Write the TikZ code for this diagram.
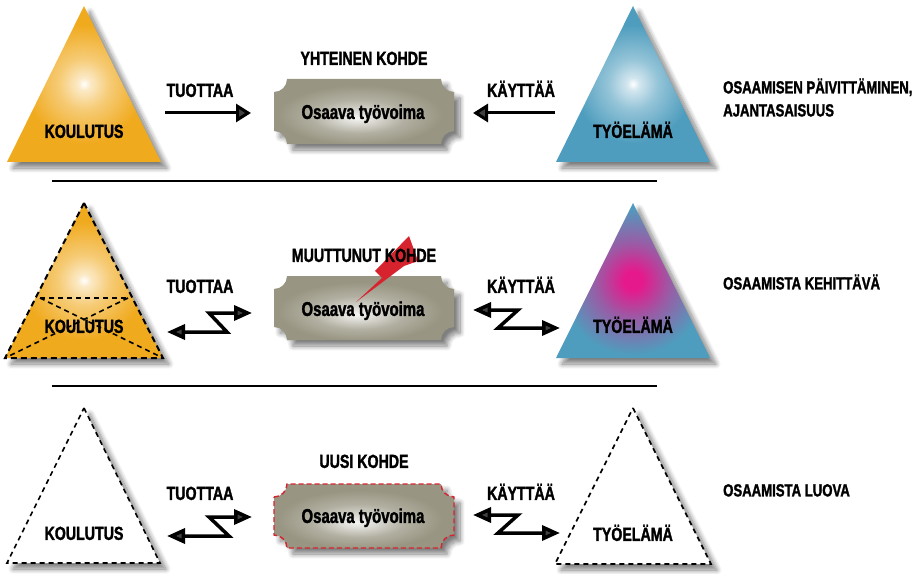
\documentclass[tikz,border=0pt]{standalone}
\usepackage{fontspec}
\newfontfamily\condfont{Liberation Sans}[FakeStretch=0.75, FakeBold=1.6]
\usetikzlibrary{arrows.meta,shadows.blur}

\definecolor{orangec}{RGB}{240,170,30}
\definecolor{bluec}{RGB}{78,157,190}
\definecolor{pinkc}{RGB}{230,25,140}
\definecolor{boxc}{RGB}{152,149,130}
\definecolor{boltc}{RGB}{215,35,45}

\pgfdeclareradialshading{orangeglow}{\pgfpoint{0bp}{0bp}}{%
  color(0bp)=(white); color(2bp)=(white!75!orangec); color(8bp)=(white!40!orangec);
  color(19bp)=(orangec); color(50bp)=(orangec)}
\pgfdeclareradialshading{blueglow}{\pgfpoint{0bp}{0bp}}{%
  color(0bp)=(white); color(2bp)=(white!75!bluec); color(8bp)=(white!40!bluec);
  color(19bp)=(bluec); color(50bp)=(bluec)}
\pgfdeclareradialshading{pinkglow}{\pgfpoint{0bp}{0bp}}{%
  color(0bp)=(pinkc); color(3bp)=(pinkc); color(12bp)=(pinkc!50!bluec);
  color(24bp)=(bluec); color(50bp)=(bluec)}
\pgfdeclareradialshading{boxglow}{\pgfpoint{-2bp}{-5bp}}{%
  color(0bp)=(white!90!boxc); color(5bp)=(white!65!boxc); color(13bp)=(white!25!boxc);
  color(23bp)=(boxc); color(50bp)=(boxc)}

\begin{document}
\begin{tikzpicture}[x=1bp,y=-1bp,
  txt/.style={font=\condfont\bfseries\fontsize{#1}{#1}\selectfont,
    inner sep=0pt, text height=13.8bp, text depth=0pt},
  lbl/.style={txt=19},
  hdr/.style={txt=19},
  boxt/.style={txt=20},
  trit/.style={txt=19},
  side/.style={txt=17.6, anchor=west, text height=12.8bp},
  shad/.style={blur shadow={shadow xshift=6bp, shadow yshift=-6bp,
    shadow blur radius=5bp, shadow blur steps=10, shadow opacity=50}},
  straightarrow/.style={line width=3bp, -{Triangle[length=15bp,width=18bp]}},
  zz/.style={line width=3.5bp,
    {Triangle[length=18bp,width=15bp]}-{Triangle[length=18bp,width=15bp]}},
  tridash/.style={draw=black, dash pattern=on 5bp off 4bp, line width=1.6bp},
  sepline/.style={line width=1.5bp},
  boxpath/.style 2 args={insert path={(274,#1+13)
    arc[start angle=90,end angle=0,radius=13] -- (441,#1)
    arc[start angle=180,end angle=90,radius=13] -- (454,#2-13)
    arc[start angle=270,end angle=180,radius=13] -- (287,#2)
    arc[start angle=0,end angle=-90,radius=13] -- cycle}}
]
\useasboundingbox (0,0) rectangle (918,574);

% separators between the three rows
\draw[sepline] (52,181) -- (657,181);
\draw[sepline] (52,386) -- (657,386);

% ---------- row 1 ----------
\shade[shad, shading=orangeglow] (84,6) -- (161,162) -- (7,162) -- cycle;
\shade[shad, shading=blueglow] (633,6) -- (710,162) -- (556,162) -- cycle;
\shade[shad, shading=boxglow, boxpath={79}{144}];

\node[trit] (kou1) at (84,131) {KOULUTUS};
\node[trit] (tyo1) at (633,131) {TYÖELÄMÄ};
\node[hdr] (head1) at (364,58) {YHTEINEN KOHDE};
\node[boxt] (work1) at (363,112) {Osaava työvoima};
\node[lbl] (prod1) at (200,90) {TUOTTAA};
\node[lbl] (use1) at (521,90) {KÄYTTÄÄ};

\coordinate (p1a) at (165,113);
\coordinate (p1b) at (251,113);
\coordinate (u1a) at (555,113);
\coordinate (u1b) at (473,113);
\draw[straightarrow] (p1a) -- (p1b);
\draw[straightarrow] (u1a) -- (u1b);

\node[side] (note1a) at (723,87) {OSAAMISEN PÄIVITTÄMINEN,};
\node[side] (note1b) at (723,110) {AJANTASAISUUS};

% ---------- row 2 ----------
\shade[shad, shading=orangeglow] (84,203) -- (163,358) -- (5,358) -- cycle;
\draw[tridash, line width=2bp, dash pattern=on 6bp off 4bp] (84,203) -- (163,358) -- (5,358) -- cycle;
\draw[tridash] (40,298) -- (128,298);
\draw[tridash] (40,298) -- (163,358);
\draw[tridash] (128,298) -- (5,358);
\shade[shad, shading=pinkglow] (633,203) -- (710,358) -- (556,358) -- cycle;
\shade[shad, shading=boxglow, boxpath={276}{340}];

% lightning bolt striking the changed target
\fill[boltc] (409,236) -- (418,261) -- (404,266) -- (356,302)
  -- (382,278) -- (375,271) -- cycle;

\node[trit] (kou2) at (84,326) {KOULUTUS};
\node[trit] (tyo2) at (633,326) {TYÖELÄMÄ};
\node[hdr] (head2) at (364,255) {MUUTTUNUT KOHDE};
\node[boxt] (work2) at (363,309) {Osaava työvoima};
\node[lbl] (prod2) at (200,286) {TUOTTAA};
\node[lbl] (use2) at (521,286) {KÄYTTÄÄ};

\coordinate (p2a) at (167,332);
\coordinate (p2b) at (252,313);
\coordinate (u2a) at (473,310);
\coordinate (u2b) at (560,328);
\draw[zz] (p2a) -- (227,332) -- (209,313) -- (p2b);
\draw[zz] (u2a) -- (518,310) -- (498,328) -- (u2b);

\node[side] (note2) at (723,283) {OSAAMISTA KEHITTÄVÄ};

% ---------- row 3 ----------
\path[shad, fill=white] (84,408) -- (160,563) -- (7,563) -- cycle;
\draw[tridash] (84,408) -- (160,563) -- (7,563) -- cycle;
\path[shad, fill=white] (633,408) -- (711,564) -- (555,564) -- cycle;
\draw[tridash] (633,408) -- (711,564) -- (555,564) -- cycle;
\shade[shad, shading=boxglow, boxpath={484}{548}];
\draw[boltc, line width=1.4bp, dash pattern=on 5bp off 3bp, boxpath={484}{548}];

\node[trit] (kou3) at (84,533) {KOULUTUS};
\node[trit] (tyo3) at (633,534) {TYÖELÄMÄ};
\node[hdr] (head3) at (364,461) {UUSI KOHDE};
\node[boxt] (work3) at (363,516) {Osaava työvoima};
\node[lbl] (prod3) at (200,493) {TUOTTAA};
\node[lbl] (use3) at (521,493) {KÄYTTÄÄ};

\coordinate (p3a) at (167,536);
\coordinate (p3b) at (252,517);
\coordinate (u3a) at (473,515);
\coordinate (u3b) at (560,533);
\draw[zz] (p3a) -- (229,536) -- (209,517) -- (p3b);
\draw[zz] (u3a) -- (518,515) -- (498,533) -- (u3b);

\node[side] (note3) at (723,490) {OSAAMISTA LUOVA};
\end{tikzpicture}
\end{document}
